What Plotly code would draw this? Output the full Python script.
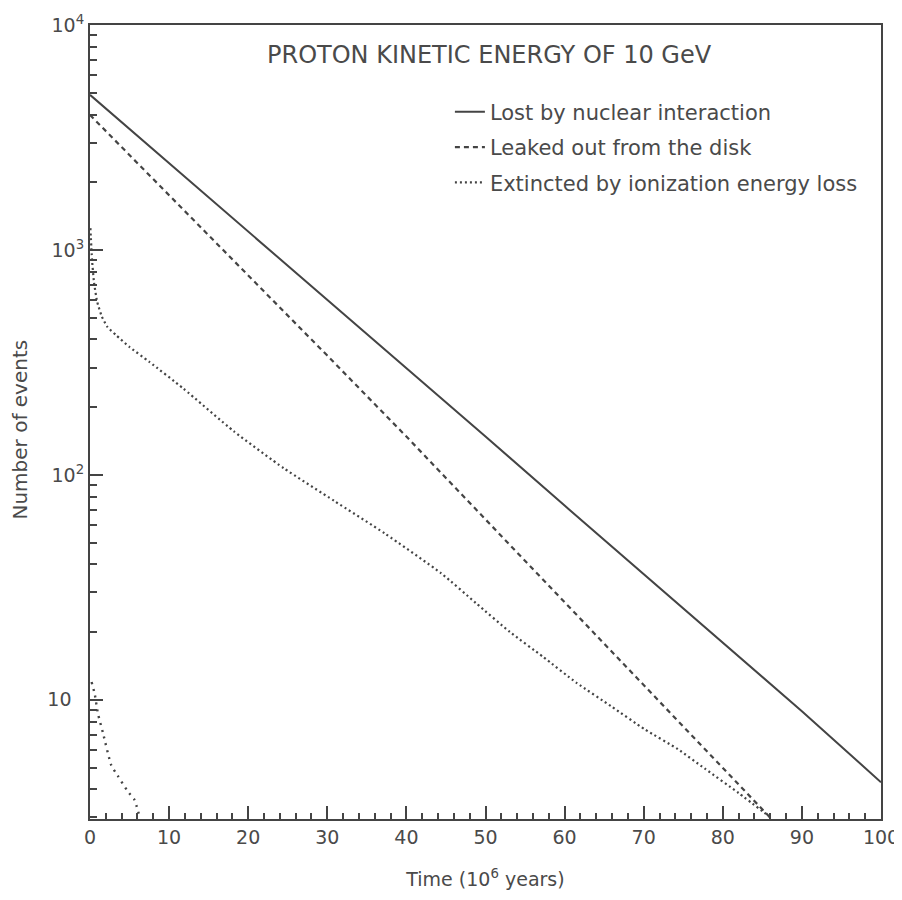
import plotly.graph_objects as go

# Time (10^6 years)
t_nuclear = [0, 10, 20, 30, 40, 50, 60, 70, 80, 90, 100]
n_nuclear = [4890, 2430, 1210, 603, 299, 148, 73, 36.3, 18, 8.9, 4.3]

t_leaked = [0, 10, 20, 30, 40, 50, 60, 70, 80, 87]
n_leaked = [3980, 1754, 773, 339, 148, 63.5, 27, 11.6, 5.0, 2.75]

t_ion = [0.05, 0.25, 0.5, 0.9, 1.5, 2.2, 3.3, 5.0, 7.5, 11.8, 18.2, 24.5,
         30.9, 37.3, 44.4, 48.8, 53.1, 57.3, 61.5, 65.9, 70.1, 74.3, 77.7,
         82.0, 86.3]
n_ion = [1250, 910, 720, 590, 505, 455, 418, 370, 318, 242, 156, 107,
         76.5, 54.8, 36.5, 26.9, 20.0, 15.5, 11.9, 9.35, 7.4, 6.04, 4.95,
         3.85, 2.95]

t_small = [0.2, 0.6, 1.0, 1.65, 2.7, 3.5, 4.8, 5.6, 6.3]
n_small = [12, 10.6, 8.7, 7.1, 5.1, 4.6, 3.9, 3.6, 3.0]

legend_names = ["Lost by nuclear interaction",
                "Leaked out from the disk",
                "Extincted by ionization energy loss"]

title_text = "PROTON KINETIC ENERGY OF 10 GeV"
x_title = "Time (10<sup>6</sup> years)"
y_title = "Number of events"
x_ticks = [0, 10, 20, 30, 40, 50, 60, 70, 80, 90, 100]
y_tickvals = [10, 100, 1000, 10000]
y_ticktext = ["10<sup>\u00a0\u00a0\u00a0</sup>", "10<sup>2</sup>", "10<sup>3</sup>", "10<sup>4</sup>"]

INK = "#444444"
TEXT = "#4a4a4a"
FONT = "DejaVu Sans"

fig = go.Figure()
fig.add_trace(go.Scatter(x=t_nuclear, y=n_nuclear, mode="lines", name=legend_names[0],
                         legendgroup="a", line=dict(color=INK, width=2)))
fig.add_trace(go.Scatter(x=t_leaked, y=n_leaked, mode="lines", name=legend_names[1],
                         legendgroup="b", line=dict(color=INK, width=2.2, dash="5px,4px")))
fig.add_trace(go.Scatter(x=t_ion, y=n_ion, mode="lines", name=legend_names[2],
                         legendgroup="c",
                         line=dict(color=INK, width=2.2, dash="2px,3px", shape="spline", smoothing=0.5)))
fig.add_trace(go.Scatter(x=t_small, y=n_small, mode="lines", showlegend=False,
                         line=dict(color=INK, width=2.4, dash="2px,5px", shape="spline", smoothing=0.5)))

# the page adds an 8 px body margin, so the figure is 8 px smaller than the window
fig.update_layout(
    width=894, height=892,
    margin=dict(l=82, r=21, t=17, b=81),
    paper_bgcolor="white", plot_bgcolor="white",
    font=dict(family=FONT, color=TEXT, size=19),
    showlegend=True,
    legend=dict(x=0.455, y=0.916, xanchor="left", yanchor="top",
                bgcolor="rgba(0,0,0,0)", font=dict(size=21, color=TEXT, family=FONT),
                traceorder="grouped", tracegroupgap=5),
    annotations=[
        dict(text=title_text, xref="paper", yref="paper",
             x=0.505, y=0.962, xanchor="center", yanchor="middle",
             showarrow=False, font=dict(size=24, color=TEXT, family=FONT)),
        dict(text=y_title, xref="paper", yref="paper",
             x=-0.089, y=0.49, xanchor="center", yanchor="middle", textangle=-90,
             showarrow=False, font=dict(size=20, color=TEXT, family=FONT)),
    ],
)

fig.update_xaxes(
    range=[0, 100], tickvals=x_ticks, ticktext=[str(v) for v in x_ticks],
    ticks="inside", ticklen=13, tickwidth=1.5, tickcolor=INK,
    minor=dict(dtick=2, ticks="inside", ticklen=6, tickwidth=1.5, tickcolor=INK, showgrid=False),
    showline=True, linecolor=INK, linewidth=2, mirror=True,
    showgrid=False, zeroline=False, automargin=False,
    tickfont=dict(size=19, color=TEXT, family=FONT),
    title=dict(text=x_title, font=dict(size=19, color=TEXT, family=FONT), standoff=26),
)
fig.update_yaxes(
    type="log", range=[0.47, 4],
    tickvals=y_tickvals, ticktext=y_ticktext,
    ticks="inside", ticklen=13, tickwidth=1.5, tickcolor=INK,
    minor=dict(dtick="D1", ticks="inside", ticklen=7, tickwidth=1.5, tickcolor=INK, showgrid=False),
    showline=True, linecolor=INK, linewidth=2, mirror=True,
    showgrid=False, zeroline=False, automargin=False,
    tickfont=dict(size=19, color=TEXT, family=FONT),
)

fig.write_html("out.html")
